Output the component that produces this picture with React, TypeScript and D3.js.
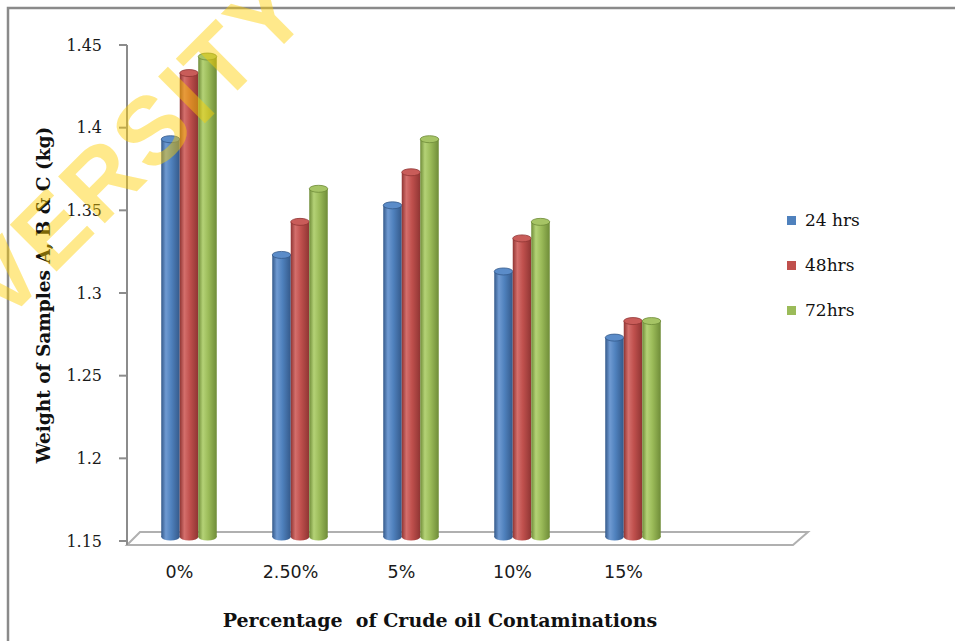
import React from 'react';
import * as d3 from 'd3';

const categories = ['0%', '2.50%', '5%', '10%', '15%'];
const seriesNames = ['24 hrs', '48hrs', '72hrs'];
const hrs24 = [1.39, 1.32, 1.35, 1.31, 1.27];
const hrs48 = [1.43, 1.34, 1.37, 1.33, 1.28];
const hrs72 = [1.44, 1.36, 1.39, 1.34, 1.28];
const yTicks = [1.15, 1.2, 1.25, 1.3, 1.35, 1.4, 1.45];
const yTickLabels = ['1.15', '1.2', '1.25', '1.3', '1.35', '1.4', '1.45'];

const seriesValues = [hrs24, hrs48, hrs72];
const colors = [
  { base: '#4F81BD', dark: '#34598a', light: '#6f9ad2', top: '#5b8cc9' },
  { base: '#C0504D', dark: '#8f3533', light: '#d46f6c', top: '#c95c59' },
  { base: '#9BBB59', dark: '#6f8c38', light: '#b4d276', top: '#a6c465' },
];

const W = 955;
const H = 641;

export default function App() {
  const y = d3.scaleLinear().domain([1.15, 1.45]).range([541, 45]);
  const x0 = d3.scaleBand<string>().domain(categories).range([127, 682]);
  const bw = x0.bandwidth();
  const depth = 13;
  const x1 = d3.scaleBand<string>().domain(seriesNames).range([0, bw / 2]);
  const barW = x1.bandwidth();
  const floorFront = y(1.15) + 4;
  const floorBack = floorFront - depth;
  const floorRight = 793;
  const baseY = y(1.15) - 4;

  return (
    <svg width={W} height={H} style={{ position: 'absolute', left: 0, top: 0, background: '#fff' }}>
      <defs>
        {colors.map((c, i) => (
          <linearGradient key={i} id={`cyl${i}`} x1="0" x2="1" y1="0" y2="0">
            <stop offset="0%" stopColor={c.dark} />
            <stop offset="25%" stopColor={c.light} />
            <stop offset="55%" stopColor={c.base} />
            <stop offset="100%" stopColor={c.dark} />
          </linearGradient>
        ))}
      </defs>
      <rect x={0} y={0} width={W} height={H} fill="#fff" />
      {/* frame */}
      <path d={`M8,${H} L8,8 L${W},8`} fill="none" stroke="#8a8a8a" strokeWidth={2.5} />

      {/* floor */}
      <polygon
        points={`127,${floorFront} ${127 + depth},${floorBack} ${floorRight + 15},${floorBack} ${floorRight},${floorFront}`}
        fill="#fff"
        stroke="#b0b0b0"
        strokeWidth={2}
      />

      {/* y axis */}
      <line x1={127} x2={127} y1={y(1.45)} y2={floorFront} stroke="#8c8c8c" strokeWidth={2} />
      {yTicks.map((t, i) => (
        <g key={t}>
          <line x1={119} x2={127} y1={y(t)} y2={y(t)} stroke="#8c8c8c" strokeWidth={2} />
          <text
            x={102}
            y={y(t) + 5.5}
            textAnchor="end"
            fontFamily="DejaVu Serif"
            fontSize={16}
            fill="#1a1a1a"
          >
            {yTickLabels[i]}
          </text>
        </g>
      ))}

      {/* bars */}
      {categories.map((c, ci) => (
        <g key={c}>
          {seriesNames.map((s, si) => {
            const v = seriesValues[si][ci];
            const bx = (x0(c) as number) + bw / 4 + depth / 2 + (x1(s) as number);
            const topY = y(v) - 5;
            const rx = barW / 2;
            const ry = 3.5;
            return (
              <g key={s}>
                <ellipse cx={bx + rx} cy={baseY} rx={rx} ry={ry} fill={`url(#cyl${si})`} />
                <rect x={bx} y={topY} width={barW} height={baseY - topY} fill={`url(#cyl${si})`} />
                <ellipse
                  cx={bx + rx}
                  cy={topY}
                  rx={rx}
                  ry={ry}
                  fill={colors[si].top}
                  stroke={colors[si].dark}
                  strokeWidth={0.8}
                />
              </g>
            );
          })}
        </g>
      ))}

      {/* category labels */}
      {categories.map((c) => (
        <text
          key={c}
          x={(x0(c) as number) + bw / 2 - 3}
          y={578}
          textAnchor="middle"
          fontFamily="DejaVu Sans"
          fontSize={17.5}
          fill="#1a1a1a"
        >
          {c}
        </text>
      ))}

      {/* axis titles */}
      <text
        x={440}
        y={627}
        textAnchor="middle"
        fontFamily="DejaVu Serif"
        fontWeight="bold"
        fontSize={19}
        fill="#111"
        style={{ whiteSpace: 'pre' }}
      >
        {'Percentage  of Crude oil Contaminations'}
      </text>
      <text
        transform={`translate(50,295) rotate(-90)`}
        textAnchor="middle"
        fontFamily="DejaVu Serif"
        fontWeight="bold"
        fontSize={18.5}
        fill="#111"
      >
        Weight of Samples A, B &amp; C (kg)
      </text>

      {/* legend */}
      {seriesNames.map((s, i) => (
        <g key={s}>
          <rect x={787} y={216 + i * 45} width={9} height={9} fill={colors[i].base} />
          <text x={805} y={226 + i * 45} fontFamily="DejaVu Serif" fontSize={17} fill="#111">
            {s}
          </text>
        </g>
      ))}

      {/* watermark */}
      <text
        transform="translate(4,324) rotate(-45)"
        fontFamily="Liberation Sans"
        fontWeight="bold"
        fontSize={96}
        letterSpacing={4}
        fill="#FFD000"
        opacity={0.45}
      >
        VERSITY
      </text>
    </svg>
  );
}
